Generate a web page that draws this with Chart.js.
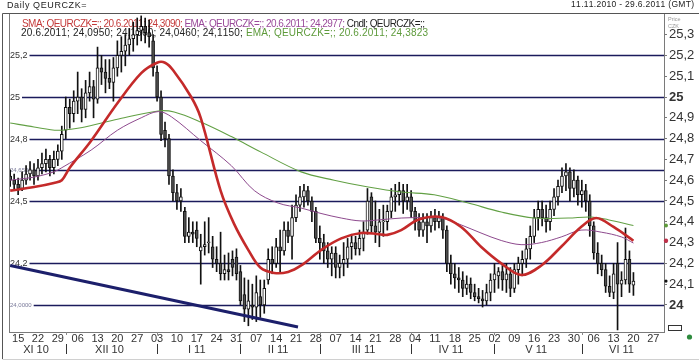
<!DOCTYPE html>
<html><head><meta charset="utf-8">
<script src="https://cdn.jsdelivr.net/npm/chart.js@4/dist/chart.umd.min.js"></script>
<style>html,body{margin:0;padding:0;background:#fff;overflow:hidden}canvas{display:block}</style>
</head><body>
<canvas id="c" width="699" height="363"></canvas>
<script>
// ---------- DATA ----------
const titleText = "Daily QEURCZK=";
const rangeText = "11.11.2010 - 29.6.2011 (GMT)";
const weekTickLabels = ["15","22","29","06","13","20","27","03","10","17","24","31","07","14","21","28","07","14","21","28","04","11","18","25","02","09","16","23","30","06","13","20","27"];
const monthLabels = ["XI 10","XII 10","I 11","II 11","III 11","IV 11","V 11","VI 11"];
const yTicks = [24.0,24.1,24.2,24.3,24.4,24.5,24.6,24.7,24.8,24.9,25.0,25.1,25.2,25.3];

const openV = [24.62,24.60,24.58,24.56,24.60,24.63,24.65,24.62,24.66,24.68,24.70,24.66,24.70,24.74,24.84,24.95,24.92,24.98,25.00,24.94,
25.02,25.05,24.99,25.14,25.12,25.09,25.07,25.14,25.20,25.22,25.25,25.28,25.30,25.32,25.34,25.31,25.27,25.12,25.00,24.84,
24.80,24.62,24.54,24.50,24.45,24.33,24.35,24.36,24.26,24.28,24.30,24.28,24.22,24.20,24.15,24.17,24.22,24.23,24.16,24.05,
23.98,24.00,23.99,24.04,24.00,24.12,24.22,24.20,24.28,24.26,24.36,24.33,24.42,24.48,24.52,24.55,24.50,24.45,24.32,24.30,
24.26,24.22,24.25,24.18,24.20,24.22,24.28,24.30,24.27,24.32,24.36,24.52,24.38,24.35,24.40,24.40,24.45,24.52,24.53,24.55,
24.50,24.52,24.45,24.40,24.36,24.40,24.38,24.42,24.40,24.42,24.36,24.20,24.15,24.13,24.12,24.08,24.10,24.06,24.04,24.03,
24.02,24.06,24.12,24.14,24.16,24.12,24.15,24.08,24.17,24.20,24.22,24.27,24.33,24.42,24.46,24.42,24.40,24.46,24.52,24.57,
24.62,24.64,24.56,24.60,24.53,24.55,24.50,24.38,24.25,24.20,24.17,24.09,24.06,24.20,24.10,24.12,24.22,24.095];
const highV = [24.65,24.63,24.61,24.64,24.67,24.69,24.68,24.70,24.73,24.75,24.72,24.74,24.77,24.86,25.00,24.99,25.03,25.12,25.04,25.08,
25.12,25.08,25.24,25.20,25.18,25.18,25.19,25.27,25.29,25.30,25.33,25.36,25.38,25.39,25.38,25.37,25.30,25.15,25.03,24.88,
24.82,24.65,24.58,24.56,24.47,24.42,24.40,24.40,24.34,24.40,24.42,24.33,24.28,24.35,24.24,24.25,24.26,24.27,24.19,24.13,
24.12,24.10,24.14,24.12,24.12,24.27,24.28,24.32,24.36,24.40,24.40,24.48,24.53,24.57,24.58,24.57,24.52,24.47,24.38,24.34,
24.30,24.28,24.28,24.24,24.30,24.32,24.34,24.33,24.36,24.40,24.56,24.54,24.50,24.46,24.48,24.48,24.56,24.58,24.59,24.58,
24.58,24.55,24.47,24.44,24.44,24.44,24.45,24.46,24.45,24.44,24.38,24.24,24.20,24.18,24.16,24.14,24.13,24.10,24.08,24.07,
24.10,24.15,24.20,24.18,24.19,24.20,24.18,24.20,24.23,24.26,24.32,24.38,24.46,24.50,24.50,24.48,24.50,24.56,24.60,24.66,
24.68,24.66,24.65,24.62,24.60,24.58,24.53,24.40,24.30,24.24,24.20,24.14,24.20,24.30,24.16,24.37,24.26,24.156];
const lowV = [24.57,24.55,24.53,24.55,24.58,24.60,24.58,24.60,24.63,24.64,24.62,24.63,24.67,24.70,24.80,24.85,24.88,24.92,24.88,24.90,
24.98,24.90,24.97,25.06,25.02,25.04,24.98,25.10,25.12,25.15,25.20,25.22,25.25,25.27,25.26,25.24,25.10,24.98,24.79,24.76,
24.58,24.50,24.46,24.45,24.30,24.30,24.30,24.28,24.10,24.24,24.25,24.18,24.16,24.12,24.12,24.12,24.14,24.12,24.00,23.92,
23.90,23.93,23.92,23.94,23.96,24.10,24.15,24.18,24.16,24.24,24.30,24.22,24.40,24.45,24.47,24.48,24.40,24.30,24.22,24.20,
24.18,24.14,24.13,24.13,24.14,24.18,24.22,24.24,24.24,24.26,24.34,24.35,24.30,24.28,24.33,24.36,24.42,24.45,24.48,24.44,
24.46,24.42,24.36,24.33,24.33,24.30,24.35,24.36,24.37,24.32,24.16,24.10,24.08,24.06,24.04,24.05,24.03,24.02,24.01,23.99,
24.00,24.02,24.06,24.08,24.07,24.06,24.04,24.06,24.10,24.14,24.18,24.22,24.30,24.36,24.38,24.35,24.36,24.43,24.48,24.54,
24.55,24.50,24.52,24.48,24.47,24.45,24.33,24.22,24.15,24.14,24.06,24.04,24.03,23.88,24.04,24.10,24.06,24.046];
const closeV = [24.60,24.58,24.56,24.60,24.63,24.65,24.62,24.66,24.68,24.70,24.66,24.70,24.74,24.82,24.95,24.92,24.98,25.00,24.94,25.02,
25.05,24.99,25.14,25.12,25.09,25.07,25.14,25.20,25.22,25.25,25.28,25.30,25.32,25.34,25.31,25.29,25.14,25.00,24.82,24.80,
24.62,24.54,24.50,24.52,24.33,24.35,24.34,24.32,24.28,24.29,24.30,24.22,24.20,24.15,24.17,24.16,24.18,24.15,24.02,23.98,
24.02,23.99,24.06,24.00,24.08,24.22,24.20,24.28,24.26,24.36,24.33,24.42,24.48,24.52,24.55,24.50,24.45,24.32,24.30,24.26,
24.22,24.25,24.18,24.20,24.22,24.28,24.30,24.27,24.32,24.35,24.50,24.38,24.35,24.40,24.40,24.45,24.52,24.53,24.55,24.50,
24.52,24.45,24.40,24.36,24.40,24.38,24.42,24.40,24.42,24.36,24.20,24.15,24.13,24.12,24.08,24.10,24.06,24.04,24.03,24.02,
24.06,24.12,24.15,24.16,24.12,24.15,24.08,24.17,24.20,24.22,24.27,24.33,24.42,24.46,24.42,24.40,24.46,24.52,24.57,24.62,
24.64,24.56,24.60,24.53,24.55,24.50,24.38,24.25,24.20,24.17,24.09,24.06,24.15,24.10,24.12,24.22,24.10,24.115];

const smaX = [0,6,11,13,15,20.4,27,33,37,39,41,45.6,48,53,56.4,60,63,66.5,70,73.3,78.3,83.4,88.4,93,95,98.5,102.8,108.6,113.6,118.6,123.7,128.7,133.8,138.8,143.8,147.6,152,157];
const smaY = [24.55,24.567,24.587,24.60,24.66,24.79,24.97,25.115,25.165,25.165,25.13,25.00,24.90,24.55,24.39,24.264,24.18,24.154,24.159,24.19,24.264,24.32,24.346,24.34,24.337,24.36,24.41,24.423,24.375,24.28,24.20,24.144,24.19,24.28,24.375,24.418,24.375,24.309];
const emaShortX = [0,6,11,13,20.4,27,33,37.3,40.6,48,55.7,61.5,67.5,73.3,78.3,83.4,88.4,93.4,98.5,103.5,108.6,113.6,118.6,123.7,128.7,133.8,138.8,143.8,148.9,154,157];
const emaShortY = [24.60,24.615,24.64,24.66,24.745,24.84,24.90,24.93,24.905,24.79,24.67,24.55,24.49,24.466,24.44,24.418,24.404,24.41,24.418,24.42,24.418,24.385,24.346,24.31,24.29,24.30,24.327,24.36,24.35,24.327,24.2977];
const emaLongX = [0,6,12,17,23,28.7,37.3,41.3,48,55.7,63.2,73.3,81.6,90.2,98.5,106.8,115.4,123.7,132,140.6,146.3,150.6,157];
const emaLongY = [24.875,24.856,24.84,24.85,24.875,24.90,24.933,24.928,24.88,24.81,24.735,24.64,24.60,24.567,24.543,24.53,24.49,24.447,24.418,24.418,24.423,24.41,24.3823];
const trendX = [0,72.5];
const trendY = [24.19,23.894];
const levelValues = [25.2,25.0,24.8,24.65,24.5,24.2,24.0];
const levelLabels = ["25,2","25","24,8","24,6500","24,5","24,2","24,0000"];

// ---------- CALENDAR ----------
const tradingDays = [];
for (let t = Date.UTC(2010,10,11); t <= Date.UTC(2011,5,29); t += 86400000) {
  const d = new Date(t); const wd = d.getUTCDay();
  if (wd !== 0 && wd !== 6) tradingDays.push(d);
}
const mondayIdx = [];
tradingDays.forEach((d,i)=>{ if (d.getUTCDay()===1) mondayIdx.push(i); });
const monthRanges = [];
tradingDays.forEach((d,i)=>{
  const m = d.getUTCMonth();
  if (!monthRanges.length || monthRanges[monthRanges.length-1].m !== m) monthRanges.push({m, start:i, end:i});
  else monthRanges[monthRanges.length-1].end = i;
});

const fmt4 = v => v.toFixed(4).replace('.', ',');
const last = a => a[a.length-1];
const n = closeV.length;

const wicks = closeV.map((c,i)=>({x:i, y:[lowV[i], highV[i]]}));
const bodies = closeV.map((c,i)=>{
  const lo = Math.min(openV[i], c), hi = Math.max(openV[i], c);
  return {x:i, y:[lo, hi - lo < 0.004 ? lo + 0.004 : hi]};
});
const bodyColors = closeV.map((c,i)=> c >= openV[i] ? '#ffffff' : '#505050');
const pts = (xs, ys) => xs.map((x,i)=>({x, y: ys[i]}));

const FONT = 'Liberation Sans, Arial, sans-serif';

function spacedText(ctx, text, x, y, extra) {
  let cx = x;
  for (const ch of text) { ctx.fillText(ch, cx, y); cx += ctx.measureText(ch).width + extra; }
  return cx;
}
function drawSegments(ctx, segs, x, y, targetW) {
  let total = 0, count = 0;
  segs.forEach(s => { for (const ch of s[0]) { total += ctx.measureText(ch).width; count++; } });
  const extra = (targetW - total) / Math.max(1, count - 1);
  let cx = x;
  segs.forEach(s => { ctx.fillStyle = s[1]; cx = spacedText(ctx, s[0], cx, y, extra); });
}

const decor = {
  id: 'decor',
  beforeDraw(chart) {
    const c = chart.ctx; c.save(); c.fillStyle = '#fff'; c.fillRect(0,0,chart.width,chart.height); c.restore();
  },
  beforeDatasetsDraw(chart) {
    const c = chart.ctx, a = chart.chartArea, ys = chart.scales.y;
    c.save();
    // level lines
    levelValues.forEach((v,k)=>{
      const y = Math.round(ys.getPixelForValue(v)) + 0.5;
      const lab = levelLabels[k];
      const small = lab.length > 4;
      c.font = (small ? '6px ' : '9px ') + FONT;
      c.fillStyle = small ? '#7a7a9a' : '#333';
      c.textBaseline = 'middle'; c.textAlign = 'left';
      c.fillText(lab, a.left + 1, y);
      const w = c.measureText(lab).width;
      c.strokeStyle = '#1b1b5c'; c.lineWidth = 1.3;
      c.beginPath(); c.moveTo(a.left + 3 + w, y); c.lineTo(a.right, y); c.stroke();
    });
    // legend text
    c.font = '10px ' + FONT; c.textBaseline = 'middle'; c.textAlign = 'left';
    drawSegments(c, [
      ['SMA; QEURCZK=;; 20.6.2011; ' + fmt4(last(smaY)) + '; ', '#c43a3a'],
      ['EMA; QEURCZK=;; 20.6.2011; ' + fmt4(last(emaShortY)) + '; ', '#9a4a9a'],
      ['Cndl; QEURCZK=;;', '#222']
    ], 22, 24.5, 403);
    drawSegments(c, [
      ['20.6.2011; ' + [last(openV), last(highV), last(lowV), last(closeV)].map(fmt4).join('; ') + '; ', '#222'],
      ['EMA; QEURCZK=;; 20.6.2011; ' + fmt4(last(emaLongY)), '#5d9a3a']
    ], 21, 33.5, 407);
    c.restore();
  },
  afterDraw(chart) {
    const c = chart.ctx, a = chart.chartArea, xs = chart.scales.x, ys = chart.scales.y;
    c.save();
    // plot border
    c.strokeStyle = '#7a7a7a'; c.lineWidth = 1;
    c.strokeRect(a.left + 0.5, a.top + 0.5, a.right - a.left, a.bottom - a.top);
    // outer frame
    c.strokeStyle = '#555';
    c.beginPath(); c.moveTo(2.5, 13.5); c.lineTo(699, 13.5); c.stroke();
    c.beginPath(); c.moveTo(2.5, 13.5); c.lineTo(2.5, 359); c.stroke();
    c.strokeStyle = '#d0d0d0';
    c.beginPath(); c.moveTo(2.5, 359.5); c.lineTo(699, 359.5); c.stroke();
    // header
    c.fillStyle = '#222'; c.textBaseline = 'middle';
    c.font = '9px ' + FONT; c.textAlign = 'left';
    spacedText(c, titleText, 7, 5.5, 0.6);
    c.textAlign = 'left';
    c.font = '8.5px ' + FONT;
    let w = 0; for (const ch of rangeText) w += c.measureText(ch).width;
    spacedText(c, rangeText, 694 - w - 0.3*(rangeText.length-1), 4.5, 0.3);
    // Price CZK
    c.font = '5.5px ' + FONT; c.fillStyle = '#999';
    c.fillText('Price', a.right + 4, 19); c.fillText('CZK', a.right + 4, 26);
    // month row
    c.fillStyle = '#333'; c.font = '11px ' + FONT; c.textAlign = 'center';
    monthRanges.forEach((r,k)=>{
      const cx = xs.getPixelForValue((r.start + r.end)/2);
      c.fillText(monthLabels[k], cx, 349.5);
      if (k > 0) {
        const sx = Math.round(xs.getPixelForValue(r.start)) + 0.5;
        c.strokeStyle = '#333'; c.lineWidth = 1;
        c.beginPath(); c.moveTo(sx, 344); c.lineTo(sx, 354); c.stroke();
        c.strokeStyle = '#888';
        c.beginPath(); c.moveTo(sx, a.bottom); c.lineTo(sx, a.bottom + 3); c.stroke();
      }
    });
    // last-value markers on axis
    const mk = (v, col, r) => { c.fillStyle = col; c.beginPath(); c.arc(a.right + 2, ys.getPixelForValue(v), r, 0, Math.PI*2); c.fill(); };
    mk(last(emaLongY), '#5d9a3a', 2);
    mk(last(smaY), '#c0304a', 2.2);
    mk(last(closeV), '#111', 1.6);
    // widgets
    c.fillStyle = '#fff'; c.strokeStyle = '#333';
    c.fillRect(668.5, 325.5, 13, 5); c.strokeRect(668.5, 325.5, 13, 5);
    c.fillStyle = '#2e8b3e'; c.beginPath(); c.arc(689.5, 337, 2.6, 0, Math.PI*2); c.fill();
    c.restore();
  }
};

new Chart(document.getElementById('c'), {
  type: 'bar',
  data: {
    datasets: [
      { type:'line', label:'SMA', data: pts(smaX, smaY), borderColor:'#c42a2a', borderWidth:2.6, pointRadius:0, tension:0.35, order:0 },
      { type:'line', label:'EMA short', data: pts(emaShortX, emaShortY), borderColor:'#8e4a8e', borderWidth:1, pointRadius:0, tension:0.35, order:0 },
      { type:'line', label:'EMA long', data: pts(emaLongX, emaLongY), borderColor:'#62a044', borderWidth:1.1, pointRadius:0, tension:0.35, order:0 },
      { type:'line', label:'Trend', data: pts(trendX, trendY), borderColor:'#1c1f6b', borderWidth:3, pointRadius:0, order:0 },
      { type:'bar', label:'Bodies', data: bodies, backgroundColor: bodyColors, borderColor:'#111', borderWidth:1, borderSkipped:false, barThickness:3, grouped:false, order:1 },
      { type:'bar', label:'Wicks', data: wicks, backgroundColor:'#111', borderWidth:0, barThickness:1, grouped:false, order:2 }
    ]
  },
  options: {
    responsive:false, animation:false, events:[],
    layout:{ padding:{ left:9, top:13, right:0, bottom:0 } },
    plugins:{ legend:{display:false}, tooltip:{enabled:false} },
    scales:{
      x:{ type:'linear', min:-0.3, max:164.7, offset:false,
          afterBuildTicks: s => { s.ticks = mondayIdx.map(v=>({value:v})); },
          afterFit: s => { s.height = 31; },
          ticks:{ autoSkip:false, maxRotation:0, padding:0, color:'#333', font:{family:FONT, size:11},
                  callback:(v,i)=> weekTickLabels[i] },
          grid:{ display:false, drawTicks:false, offset:false }, border:{ display:false } },
      y:{ position:'right', min:23.87, max:25.404,
          afterBuildTicks: s => { s.ticks = yTicks.map(v=>({value:v})); },
          afterFit: s => { s.width = 35; },
          ticks:{ autoSkip:false, padding:2, color:'#333',
                  font: ctx => ({ family:FONT, size:13, weight: (ctx.tick && (Math.abs(ctx.tick.value-25)<1e-6 || Math.abs(ctx.tick.value-24)<1e-6)) ? 'bold' : 'normal' }),
                  callback: v => (Math.abs(v - Math.round(v)) < 1e-6 ? String(Math.round(v)) : v.toFixed(1).replace('.', ',')) },
          grid:{ drawOnChartArea:false, drawTicks:true, tickLength:3, color:'#777' },
          border:{ display:false } }
    }
  },
  plugins:[decor]
});
</script>
</body></html>
